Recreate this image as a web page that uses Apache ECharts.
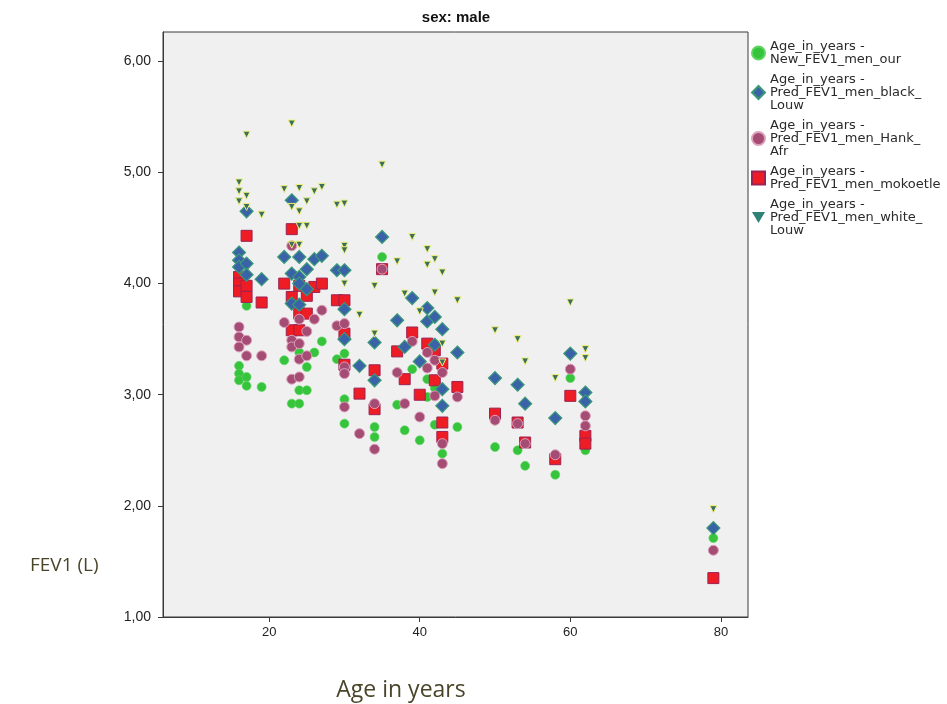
<!DOCTYPE html>
<html>
<head>
<meta charset="utf-8">
<script src="https://cdn.jsdelivr.net/npm/echarts@6/dist/echarts.min.js"></script>
<style>
html,body{margin:0;padding:0;background:#fff;}
#chart{width:947px;height:704px;}
</style>
</head>
<body>
<div id="chart"></div>
<script>
// ---- data (age in years, FEV1 in L) ----
const xTicks = [20, 40, 60, 80];
const yTicks = [1, 2, 3, 4, 5, 6];

const newFev1MenOur = [
  [16,3.26],[16,3.19],[16,3.13],[17,3.80],[17,3.16],[17,3.08],[19,3.07],
  [22,3.31],[23,2.92],[24,3.38],[24,3.04],[24,2.92],[25,3.25],[25,3.04],
  [26,3.38],[27,3.48],[29,3.32],[30,3.37],[30,2.96],[30,2.74],
  [34,2.71],[34,2.62],[35,4.24],[37,2.91],[38,2.68],[39,3.23],[40,2.59],
  [41,3.14],[41,2.98],[42,3.06],[42,2.73],[43,2.62],[43,2.47],[45,2.71],
  [50,2.53],[53,2.50],[54,2.36],[58,2.28],[60,3.15],[62,2.50],[79,1.71]
];
const predBlackLouw = [
  [16,4.28],[16,4.21],[16,4.15],[17,4.65],[17,4.18],[17,4.08],[19,4.04],
  [22,4.24],[23,4.75],[23,4.09],[23,3.82],[24,4.24],[24,4.06],[24,4.00],[24,3.81],
  [25,4.13],[25,3.95],[26,4.22],[27,4.25],[29,4.12],[30,4.12],[30,3.77],[30,3.50],
  [32,3.26],[34,3.47],[34,3.13],[35,4.42],[37,3.67],[38,3.43],[39,3.87],[40,3.30],
  [41,3.78],[41,3.66],[42,3.70],[42,3.45],[43,3.59],[43,3.05],[43,2.90],[45,3.38],
  [50,3.15],[53,3.09],[54,2.92],[58,2.79],[60,3.37],[62,3.02],[62,2.94],[79,1.80]
];
const predHankAfr = [
  [16,3.61],[16,3.52],[16,3.43],[17,3.49],[17,3.35],[19,3.35],
  [22,3.65],[23,4.34],[23,3.49],[23,3.43],[23,3.14],[24,3.68],[24,3.46],[24,3.32],[24,3.16],
  [25,3.57],[25,3.35],[26,3.68],[27,3.76],[29,3.62],[30,3.64],[30,3.25],[30,3.19],[30,2.89],
  [32,2.65],[34,2.92],[34,2.51],[35,4.13],[37,3.20],[38,2.92],[39,3.48],[40,2.80],
  [41,3.38],[41,3.24],[42,3.31],[42,2.99],[43,3.20],[43,2.56],[43,2.38],[45,2.98],
  [50,2.77],[53,2.74],[54,2.56],[58,2.46],[60,3.23],[62,2.81],[62,2.72],[79,1.60]
];
const predMokoetle = [
  [16,4.06],[16,4.00],[16,3.93],[17,4.43],[17,3.98],[17,3.88],[19,3.83],
  [22,4.00],[23,4.49],[23,3.88],[23,3.58],[24,3.98],[24,3.73],[24,3.58],
  [25,3.89],[25,3.73],[26,3.97],[27,4.00],[29,3.85],[30,3.85],[30,3.55],[30,3.27],
  [32,3.01],[34,3.22],[34,2.87],[35,4.13],[37,3.39],[38,3.14],[39,3.56],[40,3.00],
  [41,3.46],[42,3.40],[42,3.13],[43,3.28],[43,2.75],[43,2.62],[45,3.07],
  [50,2.83],[53,2.75],[54,2.57],[58,2.42],[60,2.99],[62,2.63],[62,2.56],[79,1.35]
];
const predWhiteLouw = [
  [16,4.91],[16,4.83],[16,4.74],[17,5.34],[17,4.79],[17,4.69],[19,4.62],
  [22,4.85],[23,5.44],[23,4.69],[23,4.35],[24,4.86],[24,4.65],[24,4.52],[24,4.35],
  [25,4.74],[25,4.52],[26,4.83],[27,4.87],[29,4.71],[30,4.72],[30,4.34],[30,4.30],[30,4.00],
  [32,3.72],[34,3.98],[34,3.55],[35,5.07],[37,4.20],[38,3.91],[39,4.42],[40,3.75],
  [41,4.31],[41,4.17],[42,4.22],[42,3.92],[43,4.10],[43,3.46],[43,3.29],[45,3.85],
  [50,3.58],[53,3.50],[54,3.30],[58,3.15],[60,3.83],[62,3.41],[62,3.33],[79,1.97]
];
const legendNames = [
  'Age_in_years -\nNew_FEV1_men_our',
  'Age_in_years -\nPred_FEV1_men_black_\nLouw',
  'Age_in_years -\nPred_FEV1_men_Hank_\nAfr',
  'Age_in_years -\nPred_FEV1_men_mokoetle',
  'Age_in_years -\nPred_FEV1_men_white_\nLouw'
];

const fmt = v => Number(v).toFixed(2).replace('.', ',');
const chart = echarts.init(document.getElementById('chart'), null, {renderer: 'canvas'});
const labelFont = '"Liberation Sans", Arial, sans-serif';

chart.setOption({
  animation: false,
  backgroundColor: '#ffffff',
  grid: {
    left: 163, right: 199, top: 32, bottom: 87,
    show: true, backgroundColor: '#f0f0f0', borderColor: '#3a3a3a', borderWidth: 1
  },
  xAxis: {
    type: 'value', min: 5.9, max: 83.6,
    axisLine: {show: true, onZero: false, lineStyle: {color: '#3a3a3a', width: 1}},
    axisTick: {show: true, customValues: xTicks, length: 5, lineStyle: {color: '#3a3a3a'}},
    axisLabel: {customValues: xTicks, margin: 9, fontSize: 13, color: '#222', fontFamily: labelFont,
      formatter: v => (xTicks.indexOf(v) >= 0 ? String(v) : '')},
    splitLine: {show: false}
  },
  yAxis: {
    type: 'value', min: 1, max: 6.264,
    axisLine: {show: true, onZero: false, lineStyle: {color: '#3a3a3a', width: 1}},
    axisTick: {show: true, customValues: yTicks, length: 5, lineStyle: {color: '#3a3a3a'}},
    axisLabel: {customValues: yTicks, margin: 12, fontSize: 14, color: '#222', fontFamily: labelFont,
      formatter: v => (yTicks.indexOf(v) >= 0 ? fmt(v) : '')},
    splitLine: {show: false}
  },
  legend: {
    orient: 'vertical', left: 746, top: 35, itemGap: 7,
    itemWidth: 13, itemHeight: 13,
    data: [
      {name: legendNames[0]},
      {name: legendNames[1]},
      {name: legendNames[2]},
      {name: legendNames[3]},
      {name: legendNames[4], icon: 'path://M0,0 L12,0 L6,10 Z', itemStyle: {color: '#2f8276', borderWidth: 0}}
    ],
    textStyle: {fontSize: 13, lineHeight: 13, color: '#2a2a2a', fontFamily: '"DejaVu Sans", sans-serif'}
  },
  graphic: [
    {type: 'text', x: 456, y: 18, style: {text: 'sex: male', textAlign: 'center', textVerticalAlign: 'middle',
      font: 'bold 15px "Liberation Sans", Arial, sans-serif', fill: '#111'}},
    {type: 'text', x: 30, y: 566, style: {text: 'FEV1 (L)', textAlign: 'left', textVerticalAlign: 'middle',
      font: '19px "Open Sans", sans-serif', fill: '#4a452a'}},
    {type: 'text', x: 401, y: 690, style: {text: 'Age in years', textAlign: 'center', textVerticalAlign: 'middle',
      font: '23px "Open Sans", sans-serif', fill: '#4a452a'}}
  ],
  series: [
    {name: legendNames[0], type: 'scatter', data: newFev1MenOur, symbol: 'circle', symbolSize: 9, z: 2,
      itemStyle: {color: '#35c43c', borderColor: '#62d462', borderWidth: 0.6, opacity: 1}},
    {name: legendNames[3], type: 'scatter', data: predMokoetle, symbol: 'rect', symbolSize: 11, z: 3,
      itemStyle: {color: '#ee1c24', borderColor: '#9c2352', borderWidth: 1, opacity: 1}},
    {name: legendNames[2], type: 'scatter', data: predHankAfr, symbol: 'circle', symbolSize: 10, z: 4,
      itemStyle: {color: '#a54c74', borderColor: '#dca0bc', borderWidth: 1, opacity: 1}},
    {name: legendNames[1], type: 'scatter', data: predBlackLouw, symbol: 'diamond', symbolSize: 13, z: 5,
      itemStyle: {color: '#3a62a8', borderColor: '#3a9a78', borderWidth: 1.2, opacity: 1}},
    {name: legendNames[4], type: 'scatter', data: predWhiteLouw, symbol: 'triangle', symbolRotate: 180, symbolSize: 7, z: 6,
      itemStyle: {color: '#3b6e5c', borderColor: '#eef07a', borderWidth: 1, opacity: 1}}
  ]
});
</script>
</body>
</html>
